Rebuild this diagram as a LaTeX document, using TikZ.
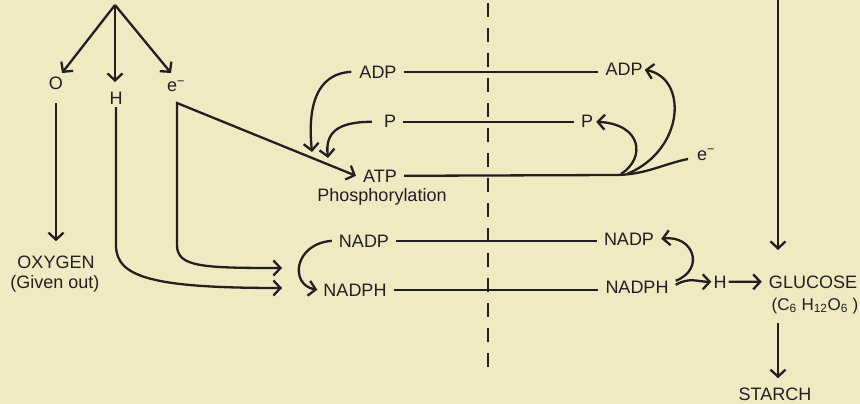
\documentclass[tikz,border=0pt]{standalone}
\usepackage{fontspec}
\setmainfont{Liberation Sans}
\usetikzlibrary{arrows.meta,calc}
\definecolor{bg}{RGB}{240,234,195}
\definecolor{ink}{RGB}{35,30,32}
\begin{document}
\begin{tikzpicture}[x=1pt,y=-1pt,
  lbl/.style={inner xsep=7pt,inner ysep=2pt,text=ink,font=\fontsize{18}{20}\selectfont,anchor=base},
  ln/.style={draw=ink,line width=2.3pt},
  arr/.style={ln,-{Straight Barb[length=7pt,width=15pt]}},
  dashln/.style={draw=ink,line width=2.6pt,dash pattern=on 14pt off 11pt}
]
\fill[bg] (0,0) rectangle (860,404);
\useasboundingbox (0,0) rectangle (860,404);

% labels
\node[lbl] (o) at (56,89) {O};
\node[lbl] (hT) at (116,105) {H};
\node[lbl,anchor=base west,inner xsep=0pt] (eT) at (167,92) {e\textsuperscript{−}};
\node[lbl] (adpL) at (378,78) {ADP};
\node[lbl] (pL) at (390,128) {P};
\node[lbl] (atp) at (380,182) {ATP};
\node[lbl] (phos) at (382,201) {Phosphorylation};
\node[lbl] (nadpL) at (364,247) {NADP};
\node[lbl] (nadphL) at (355,296) {NADPH};
\node[lbl] (oxy) at (56,268) {OXYGEN};
\node[lbl] (given) at (55,288) {(Given out)};
\node[lbl] (adpR) at (624,76) {ADP};
\node[lbl] (pR) at (587,128) {P};
\node[lbl,anchor=base west,inner xsep=0pt] (eR) at (697,160) {e\textsuperscript{−}};
\node[lbl] (nadpR) at (629,245) {NADP};
\node[lbl] (nadphR) at (637,293) {NADPH};
\node[lbl,inner xsep=2pt] (hR) at (720,288) {H};
\node[lbl] (glu) at (813,288) {GLUCOSE};
\node[lbl,font=\fontsize{17}{19}\selectfont] (form) at (815,310) {(C\textsubscript{6} H\textsubscript{12}O\textsubscript{6} )};
\node[lbl] (starch) at (775,400) {STARCH};

% coordinates
\coordinate (apex) at (115,5);
\coordinate (oTip) at (62,73);
\coordinate (hTipT) at (115,82);
\coordinate (eTipT) at (171,73);
\coordinate (eC) at (177,103);
\coordinate (hTip) at (282,288);
\coordinate (eTip) at (282,268);
\coordinate (adpTip) at (312,152);
\coordinate (pTip) at (328,158);
\coordinate (jn) at (615,175);
\coordinate (jP) at (621,174);
\coordinate (jA) at (627,174);
\coordinate (eRend) at (688,159);
\coordinate (vtop) at (778,-2);
\coordinate (vtip) at (778,250);
\coordinate (dtop) at (488,3);
\coordinate (dbot) at (488,367);

% dashed divider
\draw[dashln] (dtop) -- (dbot);

% top split
\draw[arr] (apex) -- (oTip);
\draw[arr] (apex) -- (hTipT);
\draw[arr] (apex) -- (eTipT);

% oxygen
\draw[arr] ([yshift=-12pt]o.south) -- ([yshift=12pt]oxy.north);

% H to NADPH
\draw[arr] (hT.south) -- ++(0,138) .. controls +(0,32) and +(-130,0) .. (hTip);

% e- to ATP and NADP
\draw[ln,{Straight Barb[length=7pt,width=15pt]}-{Straight Barb[length=7pt,width=15pt]}]
  (atp.west) -- (eC) -- ++(0,142) .. controls +(0,22) and +(-80,0) .. (eTip);

% ADP, P into ATP
\draw[arr] ([xshift=-1pt]adpL.west) .. controls +(-38,2) and +(-4,-40) .. (adpTip);
\draw[arr] ([xshift=-5pt]pL.west) .. controls +(-35,0) and +(-3,-25) .. (pTip);

% horizontal lines
\draw[ln] (adpL.east) -- (adpL.east -| adpR.west);
\draw[ln] (pL.east) -- (pL.east -| pR.west);
\draw[ln] (nadpL.east) -- (nadpL.east -| nadpR.west);
\draw[ln] (nadphL.east) -- (nadphL.east -| nadphR.west);
\draw[ln] (atp.east) -- (jn) .. controls +(30,0) and +(-25,5) .. (eRend);

% right side regeneration
\draw[arr] (jP) .. controls (646,158) and (642,124) .. ([xshift=-4pt]pR.east);
\draw[arr] (jA) .. controls (685,150) and (688,78) .. ([xshift=-5pt]adpR.east);

% NADP -> NADPH (left)
\draw[arr] (nadpL.west) .. controls +(-38,3) and +(-28,-5) .. ([xshift=1pt]nadphL.west);

% NADPH -> NADP (right), NADPH -> H -> GLUCOSE
\draw[arr] ([yshift=6pt]nadphR.east) .. controls +(30,-12) and +(32,-4) .. (nadpR.east);
\draw[arr] ([yshift=2pt]nadphR.east) .. controls +(14,-8) and +(-14,0) .. (hR.west);
\draw[arr] (hR.east) -- (glu.west);

% vertical input to glucose and glucose to starch
\draw[arr] (vtop) -- (vtip);
\draw[arr] ([yshift=-7pt]vtop |- form.south) -- ([yshift=7pt]vtop |- starch.north);
\end{tikzpicture}
\end{document}
